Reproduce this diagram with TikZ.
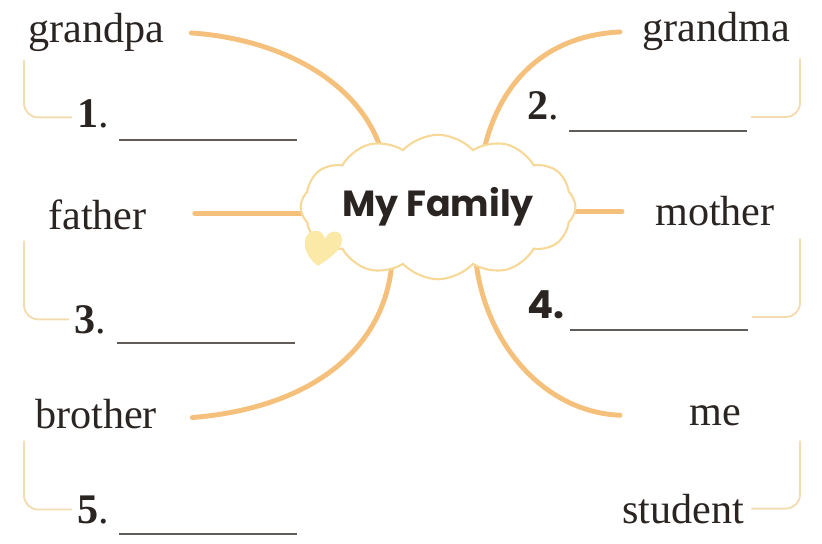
\documentclass[tikz,border=0pt]{standalone}
\usepackage{fontspec}
\setmainfont{Liberation Serif}
\newfontfamily\titlefont{Poppins}
\usetikzlibrary{positioning,shapes.symbols,backgrounds}

\definecolor{branch}{HTML}{F4C07C}
\definecolor{bracketcol}{HTML}{F3DDB0}
\definecolor{cloudline}{HTML}{F6D998}
\definecolor{heartfill}{HTML}{FBE9A8}
\definecolor{inkcol}{HTML}{2A2522}

\tikzset{
  word/.style={font=\fontsize{36}{40}\selectfont, text=inkcol, inner sep=0pt, anchor=base west},
  numlabel/.style={font=\fontsize{36}{40}\selectfont, text=inkcol, inner sep=0pt, anchor=base west},
  branchline/.style={draw=branch, line width=4.2pt, line cap=round},
  bracket/.style={draw=bracketcol, line width=1.6pt, rounded corners=12pt},
  blankline/.style={draw=inkcol!75, line width=0.9pt},
}

\begin{document}
\begin{tikzpicture}[x=0.03cm, y=-0.03cm]
  \useasboundingbox (0,0) rectangle (822,544);

  % centre cloud
  \node[cloud, cloud puffs=12, cloud puff arc=95, aspect=2.3, draw=cloudline, line width=1.8pt,
        fill=white, minimum width=6.2cm, minimum height=2.7cm, inner sep=0pt,
        font=\titlefont\bfseries\fontsize{31}{36}\selectfont, text=inkcol] (fam) at (438,207) {My Family};
  \fill[heartfill] (318,266) .. controls (302,254) and (300,234) .. (314,231)
                   .. controls (320,230) and (324,234) .. (325,239)
                   .. controls (328,230) and (342,228) .. (342,240)
                   .. controls (342,250) and (330,258) .. (318,266);

  % words
  \node[word] (gp) at (28,43) {grandpa};
  \node[word] (gm) at (642,42) {grandma};
  \node[word] (fa) at (48,230) {father};
  \node[word] (mo) at (655,226) {mother};
  \node[word] (br) at (35,428) {brother};
  \node[word] (me) at (689,425) {me};
  \node[word] (st) at (622,523) {student};

  % numbers
  \node[numlabel] (n1) at (77,128) {\textbf{1}.};
  \node[numlabel] (n2) at (527,120) {\textbf{2}.};
  \node[numlabel] (n3) at (74,333) {\textbf{3}.};
  \node[numlabel, font=\titlefont\bfseries\fontsize{33}{36}\selectfont] (n4) at (527,318) {4.};
  \node[numlabel] (n5) at (77,523) {\textbf{5}.};

  % blanks
  \draw[blankline] ([shift={(10,12)}]n1.base east) -- ++(178,0) coordinate (b1);
  \draw[blankline] ([shift={(10,11)}]n2.base east) -- ++(178,0) coordinate (b2);
  \draw[blankline] ([shift={(11,10)}]n3.base east) -- ++(178,0) coordinate (b3);
  \draw[blankline] (570,330) -- ++(178,0) coordinate (b4);
  \draw[blankline] ([shift={(10,11)}]n5.base east) -- ++(178,0) coordinate (b5);

  % rails for the brackets
  \coordinate (railL) at (24,0);
  \coordinate (railR) at (800,0);

  \draw[bracket] ([shift={(0,8)}]railL |- gp.south) |- ([shift={(-5,3)}]n1.west);
  \draw[bracket] ([shift={(0,10)}]railL |- fa.south) |- ([shift={(-5,0)}]n3.west);
  \draw[bracket] ([shift={(0,12)}]railL |- br.south) |- ([shift={(-5,0)}]n5.west);
  \draw[bracket] ([shift={(0,7)}]railR |- gm.south) |- ([shift={(4,-14)}]b2);
  \draw[bracket] ([shift={(0,12)}]railR |- mo.south) |- ([shift={(4,-13)}]b4);
  \draw[bracket] ([shift={(0,15)}]railR |- me.south) |- ([shift={(7,0)}]st.east);

  % branches
  \coordinate (fam-gp) at (381,150);
  \coordinate (fam-gm) at (484,150);
  \coordinate (fam-br) at (392,262);
  \coordinate (fam-me) at (476,262);
  \begin{scope}[on background layer]
    \draw[branchline] ([shift={(27,0)}]gp.east) .. controls (290,40) and (362,88) .. (fam-gp);
    \draw[branchline] ([shift={(-22,0)}]gm.west) .. controls (540,36) and (498,88) .. (fam-gm);
    \draw[branchline] ([shift={(48,-2)}]fa.east) -- ([shift={(10,-2)}]fa.east -| fam.west);
    \draw[branchline] ([shift={(-10,0)}]mo.west -| fam.east) -- ([shift={(-33,0)}]mo.west);
    \draw[branchline] ([shift={(35,4)}]br.east) .. controls (310,408) and (385,350) .. (fam-br);
    \draw[branchline] (fam-me) .. controls (486,345) and (545,412) .. ([shift={(-69,0)}]me.west);
  \end{scope}
\end{tikzpicture}
\end{document}
